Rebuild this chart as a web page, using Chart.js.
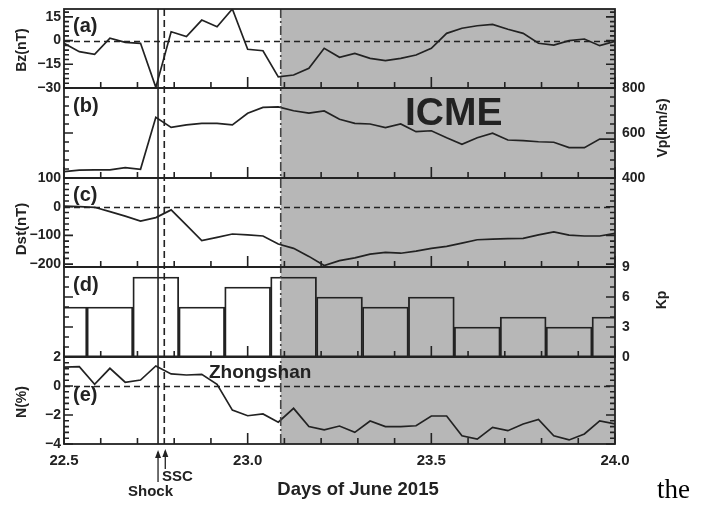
<!DOCTYPE html>
<html>
<head>
<meta charset="utf-8">
<script src="https://cdn.jsdelivr.net/npm/chart.js@4.4.1/dist/chart.umd.min.js"></script>
<style>
html,body{margin:0;padding:0;background:#fff;}
#wrap{position:relative;width:710px;height:506px;background:#fff;}
canvas{display:block;}
</style>
</head>
<body>
<div id="wrap"><canvas id="c" width="710" height="506"></canvas></div>
<script>
// ---------- data ----------
const startDay = 22.5;           // first hourly sample (day of June 2015)
const bzValues = [-1.7, -7.0, -8.7, 1.5, -1.1, -1.7, -29.6, 5.6, 2.5, 13.0, 8.8, 20.0, -5.5, -6.4, -23.0, -21.8, -17.5, -4.9, -10.6, -8.1, -11.2, -12.7, -11.2, -9.1, -4.9, 4.6, 7.8, 9.4, 10.3, 7.2, 4.6, -1.7, -2.8, 0.0, 1.0, -3.2, -0.5];
const vpValues = [428, 435, 436, 436, 446, 439, 670, 625, 636, 643, 643, 636, 688, 714, 716, 699, 688, 698, 661, 643, 640, 624, 640, 606, 610, 579, 550, 579, 599, 569, 566, 561, 559, 535, 535, 573, 573];
const dstValues = [2, 0, -2, -17, -33, -50, -38, -11, -64, -118, -107, -95, -98, -102, -130, -145, -173, -205, -188, -178, -165, -159, -162, -155, -145, -138, -127, -115, -113, -111, -110, -98, -88, -99, -102, -102, -93];
const nValues = [1.3, 1.33, 0.12, 1.22, 0.26, 0.41, 1.38, 0.83, 0.76, 0.8, 0.12, -1.66, -2.05, -1.93, -2.5, -1.54, -2.8, -3.03, -2.76, -3.2, -2.41, -2.8, -2.8, -2.74, -2.07, -2.07, -3.43, -3.66, -2.85, -3.08, -2.62, -2.3, -3.43, -3.72, -3.31, -2.41, -2.62];
const kpTimes = [22.5, 22.625, 22.75, 22.875, 23.0, 23.125, 23.25, 23.375, 23.5, 23.625, 23.75, 23.875, 24.0];
const kpValues = [5, 5, 8, 5, 7, 8, 6, 5, 6, 3, 4, 3, 4];

const dayTicks = [22.5, 23.0, 23.5, 24.0];
const dayTickLabels = ['22.5', '23.0', '23.5', '24.0'];
const bzTicks = [-30, -15, 0, 15];
const bzTickLabels = ['\u221230', '\u221215', '0', '15'];
const vpTicks = [400, 600, 800];
const vpTickLabels = ['400', '600', '800'];
const dstTicks = [-200, -100, 0, 100];
const dstTickLabels = ['\u2212200', '\u2212100', '0', '100'];
const kpTicks = [0, 3, 6, 9];
const kpTickLabels = ['0', '3', '6', '9'];
const nTicks = [-4, -2, 0, 2];
const nTickLabels = ['\u22124', '\u22122', '0', '2'];

const shockDay = 22.756;
const sscDay = 22.773;
const icmeStartDay = 23.09;

// ---------- helpers ----------
const hourly = vals => vals.map((v, i) => ({x: startDay + i / 24, y: v}));
const FONT = "'Liberation Sans', Arial, Helvetica, sans-serif";
const INK = '#222222';
Chart.defaults.font.family = FONT;

function yAxis(pos, stack, order, sw, min, max, ticks, labels, show) {
  return {
    type: 'linear', position: pos, stack: stack, stackWeight: sw, weight: order,
    min: min, max: max,
    afterFit: s => { s.width = (pos === 'left') ? 64 : 95; s.paddingTop = 0; s.paddingBottom = 0; },
    afterBuildTicks: s => { s.ticks = ticks.map(v => ({value: v})); },
    ticks: {
      display: show, autoSkip: false, padding: pos === 'left' ? 3 : 7,
      color: INK, font: {size: 14, weight: 'bold'},
      callback: (v, i) => labels[i]
    },
    grid: {display: false, drawTicks: false},
    border: {display: false}
  };
}

const panels = [
  {V: 'yA', minor: 3, major: 15, zero: true, tag: '(a)', tagDy: 17},
  {V: 'rB', minor: 40, major: 200, zero: false, tag: '(b)', tagDy: 18},
  {V: 'yC', minor: 20, major: 100, zero: true, tag: '(c)', tagDy: 17.5},
  {V: 'rD', minor: 1, major: 3, zero: false, tag: '(d)', tagDy: 18.5},
  {V: 'yE', minor: 0.4, major: 2, zero: true, tag: '(e)', tagDy: 38.5}
];

function arrow(ctx, x, yTip, yTail) {
  ctx.beginPath();
  ctx.moveTo(x, yTail); ctx.lineTo(x, yTip + 2); ctx.stroke();
  ctx.beginPath();
  ctx.moveTo(x, yTip); ctx.lineTo(x - 3, yTip + 8); ctx.lineTo(x + 3, yTip + 8); ctx.closePath(); ctx.fill();
}

function vText(ctx, txt, x, y, font) {
  ctx.save();
  ctx.translate(x, y); ctx.rotate(-Math.PI / 2);
  ctx.font = font; ctx.textAlign = 'center'; ctx.textBaseline = 'middle';
  ctx.fillText(txt, 0, 0);
  ctx.restore();
}

const deco = {
  id: 'deco',
  beforeDatasetsDraw(chart) {
    const {ctx, chartArea: ca, scales: s} = chart;
    const xg = s.x.getPixelForValue(icmeStartDay);
    ctx.save();
    ctx.fillStyle = '#b7b7b7';
    ctx.fillRect(xg, ca.top, ca.right - xg, ca.bottom - ca.top);
    ctx.restore();
  },
  afterDatasetsDraw(chart) {
    const {ctx, chartArea: ca, scales: s} = chart;
    const X = s.x;
    ctx.save();
    ctx.strokeStyle = INK; ctx.fillStyle = INK;

    // zero lines
    ctx.lineWidth = 1.6; ctx.setLineDash([6, 4]);
    panels.forEach(p => {
      if (!p.zero) return;
      const y = Math.round(s[p.V].getPixelForValue(0)) + 0.5;
      ctx.beginPath(); ctx.moveTo(ca.left, y); ctx.lineTo(ca.right, y); ctx.stroke();
    });

    // vertical event lines
    const xs = X.getPixelForValue(shockDay), xc = X.getPixelForValue(sscDay), xi = X.getPixelForValue(icmeStartDay);
    ctx.setLineDash([]); ctx.lineWidth = 1.6;
    ctx.beginPath(); ctx.moveTo(xs, ca.top); ctx.lineTo(xs, ca.bottom); ctx.stroke();
    ctx.setLineDash([7, 4]);
    ctx.beginPath(); ctx.moveTo(xc, ca.top); ctx.lineTo(xc, ca.bottom); ctx.stroke();
    ctx.strokeStyle = '#444'; ctx.setLineDash([9, 3, 2, 3]);
    ctx.beginPath(); ctx.moveTo(xi, ca.top); ctx.lineTo(xi, ca.bottom); ctx.stroke();
    ctx.strokeStyle = INK; ctx.setLineDash([]);

    // frames and tick marks
    panels.forEach(p => {
      const sc = s[p.V];
      const top = sc.top, bot = sc.bottom;
      ctx.lineWidth = 1.8;
      ctx.strokeRect(ca.left, top, ca.right - ca.left, bot - top);
      ctx.lineWidth = 1.6;
      const k0 = Math.ceil(sc.min / p.minor - 1e-9), k1 = Math.floor(sc.max / p.minor + 1e-9);
      for (let k = k0; k <= k1; k++) {
        const v = k * p.minor;
        const isMaj = Math.abs(v / p.major - Math.round(v / p.major)) < 1e-6;
        const len = isMaj ? 9 : 5;
        const y = sc.getPixelForValue(v);
        ctx.beginPath();
        ctx.moveTo(ca.left, y); ctx.lineTo(ca.left + len, y);
        ctx.moveTo(ca.right, y); ctx.lineTo(ca.right - len, y);
        ctx.stroke();
      }
      for (let k = 0; k <= 15; k++) {
        const x = X.getPixelForValue(22.5 + k * 0.1);
        const len = (k % 5 === 0) ? 11 : 6;
        ctx.beginPath(); ctx.moveTo(x, bot); ctx.lineTo(x, bot - len); ctx.stroke();
      }
      ctx.font = "bold 20px " + FONT; ctx.textAlign = 'left'; ctx.textBaseline = 'middle';
      ctx.fillText(p.tag, ca.left + 9, top + p.tagDy);
    });

    // annotations
    ctx.textBaseline = 'alphabetic';
    ctx.font = "bold 39px " + FONT; ctx.textAlign = 'left';
    ctx.fillText('ICME', 405, 125);
    ctx.font = "bold 19px " + FONT;
    ctx.fillText('Zhongshan', 209, 378);
    ctx.font = "bold 15px " + FONT;
    ctx.fillText('SSC', 162, 481);
    ctx.fillText('Shock', 128, 496);
    ctx.font = "bold 18.5px " + FONT; ctx.textAlign = 'center';
    ctx.fillText('Days of June 2015', 358, 495);
    ctx.font = "27px 'Liberation Serif', 'Times New Roman', serif"; ctx.textAlign = 'left';
    ctx.fillStyle = '#000';
    ctx.fillText('the', 657, 498);
    ctx.fillStyle = INK;

    // arrows under the axis
    ctx.lineWidth = 1.3;
    arrow(ctx, xs, ca.bottom + 6, ca.bottom + 38);
    arrow(ctx, xc + 1, ca.bottom + 5, ca.bottom + 25);

    // axis titles
    const f14 = "bold 14px " + FONT;
    vText(ctx, 'Bz(nT)', 22, 50, f14);
    vText(ctx, 'Dst(nT)', 22, 229, "bold 15px " + FONT);
    vText(ctx, 'N(%)', 22, 402, f14);
    vText(ctx, 'Vp(km/s)', 663, 128, f14);
    vText(ctx, 'Kp', 662, 300, f14);
    ctx.restore();
  }
};

const lineStyle = {borderColor: INK, borderWidth: 1.7, pointRadius: 0, tension: 0, fill: false};

new Chart(document.getElementById('c'), {
  type: 'line',
  data: {
    datasets: [
      Object.assign({label: 'Bz', data: hourly(bzValues), yAxisID: 'yA'}, lineStyle),
      Object.assign({label: 'Vp', data: hourly(vpValues), yAxisID: 'rB'}, lineStyle),
      Object.assign({label: 'Dst', data: hourly(dstValues), yAxisID: 'yC'}, lineStyle),
      {type: 'bar', label: 'Kp', data: kpTimes.map((t, i) => ({x: t, y: kpValues[i]})), yAxisID: 'rD',
       backgroundColor: 'rgba(0,0,0,0)', borderColor: INK, borderWidth: 1.2, borderSkipped: false,
       barPercentage: 1, categoryPercentage: 1},
      Object.assign({label: 'N', data: hourly(nValues), yAxisID: 'yE'}, lineStyle)
    ]
  },
  options: {
    responsive: false, animation: false,
    layout: {padding: {top: 9, left: 0, right: 0, bottom: 0}},
    plugins: {legend: {display: false}, tooltip: {enabled: false}, title: {display: false}},
    scales: {
      x: {
        type: 'linear', position: 'bottom', min: 22.5, max: 24.0, offset: false,
        afterFit: s => { s.height = 62; },
        afterBuildTicks: s => { s.ticks = dayTicks.map(v => ({value: v})); },
        ticks: {autoSkip: false, maxRotation: 0, padding: 8, color: INK, font: {size: 15, weight: 'bold'},
                callback: (v, i) => dayTickLabels[i]},
        grid: {display: false, drawTicks: false},
        border: {display: false}
      },
      yA: yAxis('left', 'L', 5, 79, -30, 20, bzTicks, bzTickLabels, true),
      yB: yAxis('left', 'L', 4, 90, 400, 800, [], [], false),
      yC: yAxis('left', 'L', 3, 89, -210, 100, dstTicks, dstTickLabels, true),
      yD: yAxis('left', 'L', 2, 90, 0, 9, [], [], false),
      yE: yAxis('left', 'L', 1, 87, -4, 2, nTicks, nTickLabels, true),
      rA: yAxis('right', 'R', 1, 79, -30, 20, [], [], false),
      rB: yAxis('right', 'R', 2, 90, 400, 800, vpTicks, vpTickLabels, true),
      rC: yAxis('right', 'R', 3, 89, -210, 100, [], [], false),
      rD: yAxis('right', 'R', 4, 90, 0, 9, kpTicks, kpTickLabels, true),
      rE: yAxis('right', 'R', 5, 87, -4, 2, [], [], false)
    }
  },
  plugins: [deco]
});
</script>
</body>
</html>
